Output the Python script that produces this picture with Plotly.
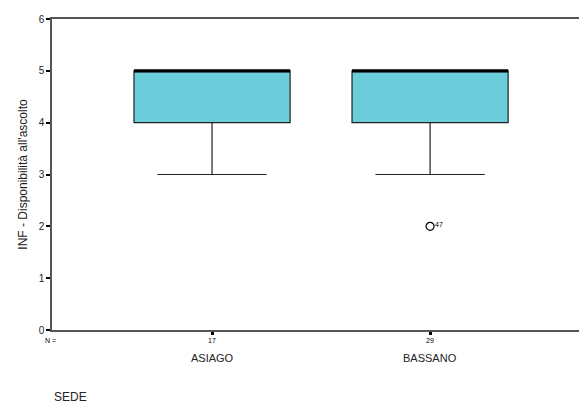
import plotly.graph_objects as go

# Summary statistics per site (SEDE)
sites = ["ASIAGO", "BASSANO"]
n_counts = [17, 29]
q1 = [4, 4]
medians = [5, 5]
q3 = [5, 5]
lower_whisker = [3, 3]
upper_whisker = [5, 5]
# Outliers: (site index, value, case label)
outlier_site = [2]
outlier_value = [2]
outlier_case = ["47"]

positions = list(range(1, len(sites) + 1))
box_half = 0.358

fig = go.Figure()

fig.add_trace(go.Box(
    x=positions,
    q1=q1, median=medians, q3=q3,
    lowerfence=lower_whisker, upperfence=upper_whisker,
    width=2 * box_half,
    whiskerwidth=0.7,
    fillcolor="#6ccdda",
    line=dict(color="#222222", width=1.2),
    boxpoints=False,
    showlegend=False,
    hoverinfo="skip",
))

# Thick median bars
for p, m in zip(positions, medians):
    fig.add_trace(go.Scatter(
        x=[p - box_half, p + box_half], y=[m, m],
        mode="lines", line=dict(color="black", width=3),
        showlegend=False, hoverinfo="skip",
    ))

# Outliers with case labels
fig.add_trace(go.Scatter(
    x=outlier_site, y=outlier_value,
    mode="markers",
    marker=dict(symbol="circle-open", size=8, color="black", line=dict(width=1.2)),
    showlegend=False, hoverinfo="skip",
))
for xs, ys, lab in zip(outlier_site, outlier_value, outlier_case):
    fig.add_annotation(x=xs, y=ys, text=lab, showarrow=False,
                       xanchor="left", yanchor="middle", xshift=3, yshift=2,
                       font=dict(size=7, color="black", family="Arial"))

# N labels under each category, plus category names
fig.add_annotation(x=0, y=0, xref="paper", yref="paper", text="N =",
                   showarrow=False, xanchor="center", yanchor="top",
                   xshift=-2, yshift=-5, font=dict(size=7, color="black", family="Arial"))
for p, n, s in zip(positions, n_counts, sites):
    fig.add_annotation(x=p, y=0, yref="paper", text=str(n), showarrow=False,
                       xanchor="center", yanchor="top", yshift=-5,
                       font=dict(size=7, color="black", family="Arial"))
    fig.add_annotation(x=p, y=0, yref="paper", text=s, showarrow=False,
                       xanchor="center", yanchor="top", yshift=-20,
                       font=dict(size=11, color="#222222", family="Arial"))

# Axis title for the grouping variable, bottom-left
fig.add_annotation(x=0, y=0, xref="paper", yref="paper", text="SEDE",
                   showarrow=False, xanchor="left", yanchor="top",
                   yshift=-58,
                   font=dict(size=12, color="#222222", family="Arial"))

fig.update_layout(
    width=579, height=403,
    margin=dict(l=52, r=0, t=19, b=73),
    paper_bgcolor="white", plot_bgcolor="white",
    xaxis=dict(
        range=[0.266, 2.683], showgrid=False, zeroline=False,
        tickvals=positions, ticktext=["", ""],
        ticks="outside", ticklen=3, tickwidth=3, tickcolor="black",
        showline=True, linecolor="#555555", linewidth=1.5, mirror=True,
    ),
    yaxis=dict(
        range=[0, 6], dtick=1, showgrid=False, zeroline=False,
        ticks="outside", ticklen=4, tickwidth=2, tickcolor="black",
        showline=True, linecolor="#555555", linewidth=1.5,
        tickfont=dict(size=10, color="#222222", family="Arial"),
        title=dict(text="INF - Disponibilità all'ascolto", standoff=8,
                   font=dict(size=12, color="#222222", family="Arial")),
    ),
    font=dict(family="Arial"),
)

fig.write_html("out.html")
